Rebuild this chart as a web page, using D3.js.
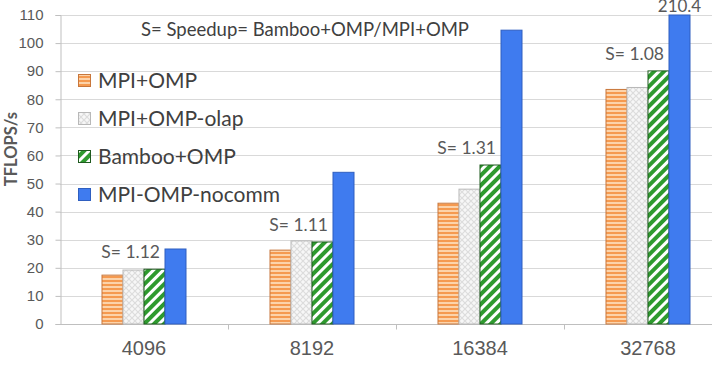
<!DOCTYPE html>
<html>
<head>
<meta charset="utf-8">
<script src="https://cdn.jsdelivr.net/npm/d3@7"></script>
<style>
  body { margin: 0; background: #fff; }
  svg { display: block; font-family: Lato, "Open Sans", sans-serif; }
</style>
</head>
<body>
<div id="chart"></div>
<script>
const width = 719, height = 366;
const margin = { top: 15, right: 0, bottom: 42, left: 60 };

// data
const categories = ["4096", "8192", "16384", "32768"];
const seriesNames = ["MPI+OMP", "MPI+OMP-olap", "Bamboo+OMP", "MPI-OMP-nocomm"];
const mpiOmp     = [17.4, 26.3, 43.0, 83.5];
const mpiOmpOlap = [19.2, 29.6, 48.0, 84.2];
const bambooOmp  = [19.5, 29.2, 56.6, 90.1];
const nocomm     = [26.7, 54.0, 104.6, 210.4];
const speedups   = ["1.12", "1.11", "1.31", "1.08"];
const yTicks     = [0, 10, 20, 30, 40, 50, 60, 70, 80, 90, 100, 110];

const seriesValues = [mpiOmp, mpiOmpOlap, bambooOmp, nocomm];
const fills = ["url(#pOrange)", "url(#pOlap)", "url(#pGreen)", "#3f7bef"];
const strokes = ["#c8773c", "#b8b8b8", "#1f5a1f", "#2f5fc0"];

const svg = d3.select("#chart")
    .append("svg")
    .attr("width", width)
    .attr("height", height);

// patterns
const defs = svg.append("defs");
const pO = defs.append("pattern").attr("id", "pOrange")
    .attr("patternUnits", "userSpaceOnUse").attr("width", 6).attr("height", 4);
pO.append("rect").attr("width", 6).attr("height", 4).attr("fill", "#fcd3aa");
pO.append("rect").attr("width", 6).attr("height", 2).attr("fill", "#f59a50");

const pL = defs.append("pattern").attr("id", "pOlap")
    .attr("patternUnits", "userSpaceOnUse").attr("width", 6).attr("height", 6);
pL.append("rect").attr("width", 6).attr("height", 6).attr("fill", "#f7f7f7");
pL.append("path").attr("d", "M0,0L6,6M6,0L0,6")
    .attr("stroke", "#dcdcdc").attr("stroke-width", 1.2);

const pG = defs.append("pattern").attr("id", "pGreen")
    .attr("patternUnits", "userSpaceOnUse").attr("width", 7).attr("height", 7)
    .attr("patternTransform", "rotate(45)");
pG.append("rect").attr("width", 7).attr("height", 7).attr("fill", "#ffffff");
pG.append("rect").attr("width", 4).attr("height", 7).attr("fill", "#2e9a2e");

// scales
const x0 = d3.scaleBand()
    .domain(categories)
    .range([margin.left, 732]);

const x1 = d3.scaleBand()
    .domain(seriesNames)
    .range([42, 126]);

const y = d3.scaleLinear()
    .domain([0, 110])
    .range([height - margin.bottom, margin.top])
    .clamp(true);

// gridlines
svg.append("g")
    .selectAll("line")
    .data(yTicks.slice(1))
    .join("line")
    .attr("x1", margin.left)
    .attr("x2", 712)
    .attr("y1", d => Math.round(y(d)) + 0.5)
    .attr("y2", d => Math.round(y(d)) + 0.5)
    .attr("stroke", "#d9d9d9");

// y axis
const yAxis = svg.append("g")
    .attr("transform", `translate(${margin.left + 0.5}, 0)`)
    .call(d3.axisLeft(y).tickValues(yTicks).tickSize(5).tickPadding(12));
yAxis.select(".domain").attr("stroke", "#bfbfbf");
yAxis.selectAll(".tick line").attr("stroke", "#bfbfbf");
yAxis.selectAll("text")
    .style("font-size", "15px")
    .attr("fill", "#595959");

// x axis
const xAxis = svg.append("g")
    .attr("transform", `translate(0, ${Math.round(y(0)) + 0.5})`)
    .call(d3.axisBottom(x0).tickSize(0).tickPadding(16));
xAxis.select(".domain").remove();
xAxis.append("line")
    .attr("x1", margin.left).attr("x2", 712)
    .attr("stroke", "#bfbfbf");
xAxis.selectAll(".bound")
    .data(categories.slice(1))
    .join("line")
    .attr("class", "bound")
    .attr("x1", d => Math.round(x0(d)) + 0.5)
    .attr("x2", d => Math.round(x0(d)) + 0.5)
    .attr("y1", 0).attr("y2", 5)
    .attr("stroke", "#bfbfbf");
xAxis.selectAll("text")
    .style("font-size", "20px")
    .attr("fill", "#595959");

// bars
seriesNames.forEach((name, i) => {
    svg.append("g")
        .selectAll("rect")
        .data(categories.map((c, j) => ({ cat: c, value: seriesValues[i][j] })))
        .join("rect")
        .attr("x", d => x0(d.cat) + x1(name))
        .attr("y", d => y(d.value))
        .attr("width", x1.bandwidth())
        .attr("height", d => y(0) - y(d.value))
        .attr("fill", fills[i])
        .attr("stroke", strokes[i])
        .attr("stroke-width", 1);
});

// speedup labels
svg.append("g")
    .selectAll("text")
    .data(categories)
    .join("text")
    .attr("x", d => x0(d) + x1(seriesNames[3]) - 5)
    .attr("y", (d, j) => y(bambooOmp[j]) - 11)
    .attr("text-anchor", "end")
    .style("font-size", "17.5px")
    .attr("fill", "#595959")
    .text((d, j) => "S= " + speedups[j]);

// clipped value label
svg.append("text")
    .attr("x", x0(categories[3]) + x1(seriesNames[3]) + x1.bandwidth() / 2)
    .attr("y", y(110) - 3)
    .attr("text-anchor", "middle")
    .style("font-size", "17px")
    .attr("fill", "#595959")
    .text(nocomm[3]);

// note
svg.append("text")
    .attr("x", 305)
    .attr("y", 36)
    .attr("text-anchor", "middle")
    .style("font-size", "18.5px")
    .attr("fill", "#404040")
    .text("S= Speedup= Bamboo+OMP/MPI+OMP");

// axis title
svg.append("text")
    .attr("transform", "translate(17, 149) rotate(-90)")
    .attr("text-anchor", "middle")
    .style("font-size", "16.5px")
    .style("font-weight", "bold")
    .attr("fill", "#595959")
    .text("TFLOPS/s");

// legend
const legend = svg.append("g")
    .attr("transform", "translate(78, 88)");
seriesNames.forEach((name, i) => {
    const row = legend.append("g")
        .attr("transform", `translate(0, ${i * 38})`);
    row.append("rect")
        .attr("x", 0.5)
        .attr("y", -13.5)
        .attr("width", 12)
        .attr("height", 12)
        .attr("fill", fills[i])
        .attr("stroke", strokes[i]);
    row.append("text")
        .attr("x", 20)
        .attr("y", 0)
        .style("font-size", "21px")
        .attr("fill", "#404040")
        .text(name);
});
</script>
</body>
</html>
